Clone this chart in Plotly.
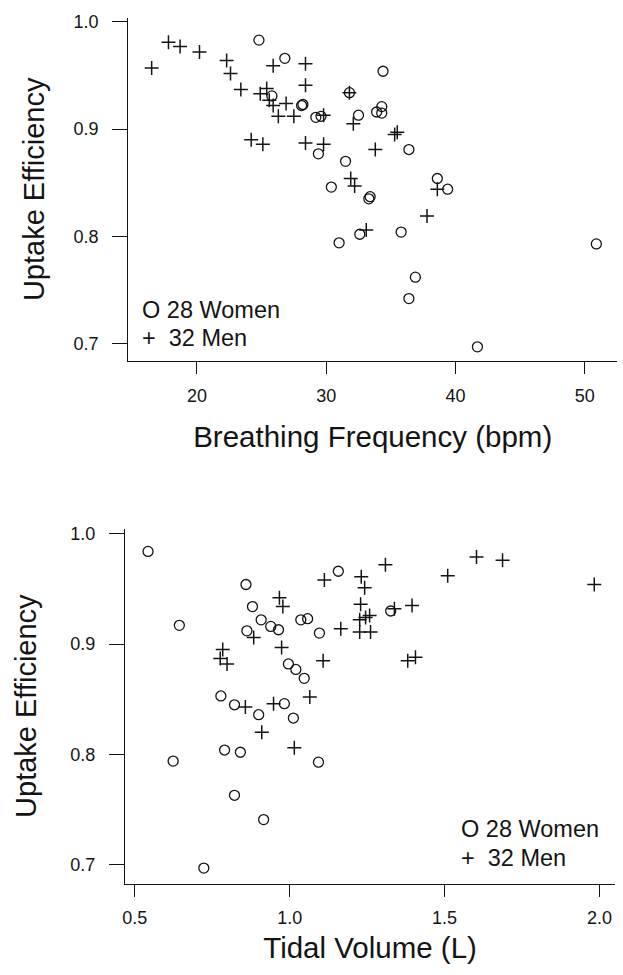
import plotly.graph_objects as go

# ---- Top panel: Breathing Frequency vs Uptake Efficiency ----
women_freq = [24.8, 26.8, 25.8, 28.1, 28.2, 29.2, 29.6, 31.8, 32.5, 33.9, 34.3, 34.3, 34.4, 29.4,
              31.5, 36.4, 30.4, 33.3, 33.4, 38.6, 39.4, 31.0, 32.6, 35.8, 36.9, 36.4, 41.7, 50.9]
women_eff_f = [0.983, 0.966, 0.931, 0.922, 0.923, 0.911, 0.912, 0.934, 0.913, 0.916, 0.921, 0.915, 0.954, 0.877,
               0.870, 0.881, 0.846, 0.835, 0.837, 0.854, 0.844, 0.794, 0.802, 0.804, 0.762, 0.742, 0.697, 0.793]
men_freq = [16.5, 17.8, 18.7, 20.2, 22.3, 22.6, 23.4, 25.9, 28.4, 28.4, 24.9, 25.4, 25.6, 25.9, 26.9, 26.3,
            27.5, 24.2, 25.1, 28.4, 29.8, 29.8, 32.1, 31.9, 32.2, 31.8, 35.3, 35.5, 33.8, 38.6, 37.8, 33.1]
men_eff_f = [0.957, 0.981, 0.977, 0.972, 0.964, 0.952, 0.937, 0.959, 0.961, 0.941, 0.933, 0.938, 0.927, 0.922,
             0.924, 0.912, 0.912, 0.890, 0.886, 0.887, 0.886, 0.913, 0.905, 0.854, 0.847, 0.934, 0.895, 0.897,
             0.881, 0.844, 0.819, 0.806]

# ---- Bottom panel: Tidal Volume vs Uptake Efficiency ----
women_vol = [0.543, 0.644, 0.859, 0.880, 0.908, 0.939, 0.964, 0.862, 1.036, 1.058, 1.096, 1.157, 0.996, 1.020,
             1.047, 1.326, 0.778, 0.822, 0.983, 0.900, 1.012, 0.790, 0.841, 0.624, 1.093, 0.822, 0.916, 0.723]
women_eff_v = [0.984, 0.917, 0.954, 0.934, 0.922, 0.916, 0.913, 0.912, 0.922, 0.923, 0.910, 0.966, 0.882, 0.877,
               0.869, 0.930, 0.853, 0.845, 0.846, 0.836, 0.833, 0.804, 0.802, 0.794, 0.793, 0.763, 0.741, 0.697]
men_vol = [0.967, 0.978, 0.884, 0.974, 0.784, 0.776, 0.798, 1.108, 1.112, 1.231, 1.242, 1.229, 1.165, 1.309,
           1.226, 1.245, 1.258, 1.226, 1.261, 1.338, 1.395, 1.510, 1.603, 1.687, 1.983, 1.381, 1.406, 0.857,
           0.948, 1.065, 0.910, 1.015]
men_eff_v = [0.942, 0.934, 0.906, 0.897, 0.895, 0.887, 0.882, 0.885, 0.958, 0.961, 0.951, 0.936, 0.914, 0.972,
             0.922, 0.924, 0.926, 0.911, 0.911, 0.932, 0.935, 0.962, 0.979, 0.976, 0.954, 0.885, 0.888, 0.843,
             0.846, 0.852, 0.820, 0.806]

y_ticks = [0.7, 0.8, 0.9, 1.0]
y_ticklabels = ["0.7", "0.8", "0.9", "1.0"]
freq_ticks = [20, 30, 40, 50]
vol_ticks = [0.5, 1.0, 1.5, 2.0]
vol_ticklabels = ["0.5", "1.0", "1.5", "2.0"]
legend_lines = ["O 28 Women", "+  32 Men"]

INK = "#141414"
FONT = "Liberation Sans, Arial, Helvetica, sans-serif"

circle_marker = dict(symbol="circle-open", size=10, color=INK, line=dict(width=1.3, color=INK))
plus_marker = dict(symbol="cross-thin-open", size=10, color=INK, line=dict(width=1.5, color=INK))

fig = go.Figure()
fig.add_trace(go.Scatter(x=women_freq, y=women_eff_f, mode="markers", marker=circle_marker,
                         name="28 Women", showlegend=False, xaxis="x", yaxis="y"))
fig.add_trace(go.Scatter(x=men_freq, y=men_eff_f, mode="markers", marker=plus_marker,
                         name="32 Men", showlegend=False, xaxis="x", yaxis="y"))
fig.add_trace(go.Scatter(x=women_vol, y=women_eff_v, mode="markers", marker=circle_marker,
                         name="28 Women", showlegend=False, xaxis="x2", yaxis="y2"))
fig.add_trace(go.Scatter(x=men_vol, y=men_eff_v, mode="markers", marker=plus_marker,
                         name="32 Men", showlegend=False, xaxis="x2", yaxis="y2"))

W, H = 623, 975

def axis_common(title_size):
    return dict(showline=True, linecolor=INK, linewidth=1.3, ticks="outside", tickcolor=INK,
                tickwidth=1.3, showgrid=False, zeroline=False,
                tickfont=dict(family=FONT, size=18, color=INK),
                title_font=dict(family=FONT, size=title_size, color=INK))

xa1 = axis_common(29.5)
xa1.update(domain=[126 / W, 617 / W], anchor="y", range=[14.7, 52.5], tickvals=freq_ticks,
           ticklen=12, ticklabelstandoff=6,
           title=dict(text="Breathing Frequency (bpm)", standoff=21))
ya1 = axis_common(29)
ya1.update(domain=[1 - 357 / H, 1 - 12 / H], anchor="x", range=[0.684, 1.0037], tickvals=y_ticks,
           ticktext=y_ticklabels, ticklen=15, ticklabelstandoff=10,
           title=dict(text="Uptake Efficiency", standoff=20))
xa2 = axis_common(29.5)
xa2.update(domain=[122.7 / W, 615 / W], anchor="y2", range=[0.469, 2.05], tickvals=vol_ticks,
           ticktext=vol_ticklabels, ticklen=12, ticklabelstandoff=6,
           title=dict(text="Tidal Volume (L)", standoff=10))
ya2 = axis_common(29)
ya2.update(domain=[1 - 883 / H, 1 - 526 / H], anchor="x2", range=[0.683, 1.0045], tickvals=y_ticks,
           ticktext=y_ticklabels, ticklen=15, ticklabelstandoff=10,
           title=dict(text="Uptake Efficiency", standoff=25))

annotations = []
for i, line in enumerate(legend_lines):
    annotations.append(dict(text=line, xref="paper", yref="paper", x=138 / W, y=1 - (306 + 28 * i) / H,
                            xanchor="left", yanchor="middle", showarrow=False,
                            font=dict(family=FONT, size=23.5, color=INK)))
    annotations.append(dict(text=line, xref="paper", yref="paper", x=458 / W, y=1 - (828 + 29 * i) / H,
                            xanchor="left", yanchor="middle", showarrow=False,
                            font=dict(family=FONT, size=23.5, color=INK)))

fig.update_layout(width=W, height=H, margin=dict(l=0, r=0, t=0, b=0),
                  paper_bgcolor="white", plot_bgcolor="white",
                  xaxis=xa1, yaxis=ya1, xaxis2=xa2, yaxis2=ya2,
                  annotations=annotations, showlegend=False,
                  font=dict(family=FONT, color=INK))

fig.write_html("out.html")
